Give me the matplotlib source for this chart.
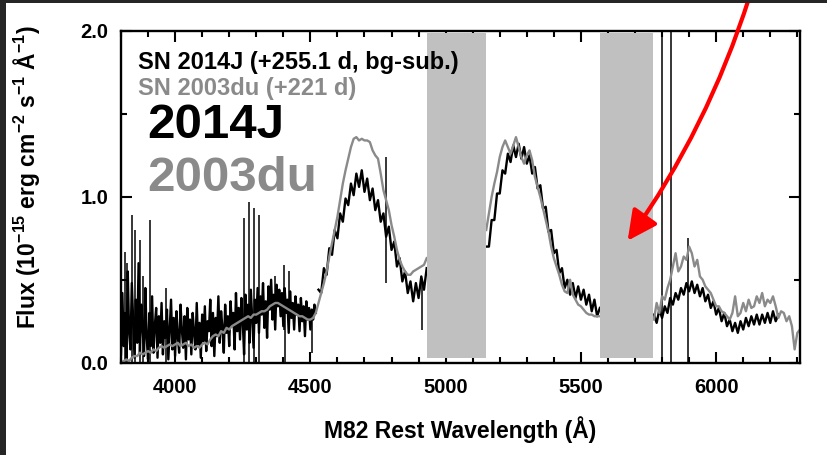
import matplotlib
matplotlib.use("Agg")
import matplotlib.pyplot as plt
import numpy as np
from matplotlib.patches import Rectangle, FancyArrowPatch

plt.rcParams['font.family'] = ['Liberation Sans', 'DejaVu Sans']
plt.rcParams['font.weight'] = 'bold'
plt.rcParams['axes.labelweight'] = 'bold'
plt.rcParams['mathtext.fontset'] = 'custom'
plt.rcParams['mathtext.bf'] = 'Liberation Sans:bold'
plt.rcParams['mathtext.rm'] = 'Liberation Sans:bold'
plt.rcParams['mathtext.default'] = 'bf'

# SN 2014J, background subtracted
# noisy blue end, 5 A steps from 3800 A
flux_14j_blue = [0.05, 0.42, 0.10, 0.30, 0.02, 0.55, 0.18, 0.08, 0.48, 0.25,
                 0.03, 0.38, 0.12, 0.60, 0.06, 0.35, 0.22, 0.04, 0.45, 0.15,
                 0.02, 0.30, 0.10, 0.40, 0.06, 0.22, 0.33, 0.03, 0.28, 0.12,
                 0.36, 0.05, 0.25, 0.15, 0.32, 0.02, 0.20, 0.38, 0.08, 0.27,
                 0.04, 0.31, 0.16, 0.06, 0.35, 0.20, 0.09, 0.28, 0.02, 0.33,
                 0.14, 0.26, 0.05, 0.30, 0.18, 0.08, 0.36, 0.11, 0.24, 0.03,
                 0.29, 0.13, 0.34, 0.07, 0.25, 0.19, 0.38, 0.10, 0.30, 0.04,
                 0.27, 0.16, 0.40, 0.12, 0.31, 0.21, 0.06, 0.35, 0.18, 0.28,
                 0.10, 0.37, 0.22, 0.30, 0.08, 0.42, 0.19, 0.33, 0.14, 0.39,
                 0.25, 0.05, 0.41, 0.20, 0.35, 0.12, 0.44, 0.26, 0.09, 0.38,
                 0.24, 0.45, 0.18, 0.40, 0.29, 0.48, 0.21, 0.37, 0.15, 0.46,
                 0.32, 0.50, 0.26, 0.41, 0.20, 0.47, 0.34, 0.44, 0.28, 0.42,
                 0.22, 0.45, 0.30, 0.38, 0.18, 0.43, 0.27, 0.36, 0.20, 0.40,
                 0.29, 0.35, 0.19, 0.39, 0.25, 0.34, 0.16, 0.37, 0.26, 0.33,
                 0.20, 0.32, 0.26, 0.35, 0.30]
# 10 A steps from 4530 A, 5150 A and 5770 A
flux_14j_a = [0.44, 0.42, 0.57, 0.53, 0.69, 0.65, 0.80, 0.75, 0.90, 0.85,
              0.99, 0.95, 1.08, 1.01, 1.14, 1.06, 1.16, 1.03, 1.11, 0.98,
              1.05, 0.92, 0.98, 0.85, 0.90, 0.76, 0.82, 0.68, 0.73, 0.58,
              0.63, 0.49, 0.55, 0.42, 0.49, 0.37, 0.48, 0.39, 0.52, 0.44,
              0.57]
flux_14j_b = [0.70, 0.70, 0.86, 0.86, 1.02, 1.02, 1.16, 1.14, 1.26, 1.21,
              1.31, 1.24, 1.32, 1.23, 1.30, 1.20, 1.25, 1.14, 1.18, 1.05,
              1.07, 0.93, 0.94, 0.79, 0.80, 0.66, 0.68, 0.54, 0.57, 0.45,
              0.50, 0.41, 0.48, 0.39, 0.46, 0.38, 0.44, 0.35, 0.41, 0.31,
              0.38, 0.28, 0.33]
flux_14j_c = [0.29, 0.24, 0.32, 0.27, 0.34, 0.30, 0.39, 0.35, 0.42, 0.38,
              0.45, 0.41, 0.48, 0.43, 0.49, 0.42, 0.47, 0.40, 0.45, 0.37,
              0.41, 0.33, 0.37, 0.29, 0.33, 0.25, 0.30, 0.22, 0.26, 0.19,
              0.24, 0.18, 0.25, 0.20, 0.27, 0.22, 0.28, 0.23, 0.29, 0.23,
              0.29, 0.24, 0.30, 0.24, 0.31, 0.25, 0.29]
seg_14j_start = [3800, 4530, 5150, 5770]
seg_14j_step = [5, 10, 10, 10]

# SN 2003du (+221 d), 10 A steps from 3800 A, 5150 A and 5770 A
flux_03du_a = [0.00, 0.01, 0.02, 0.01, 0.03, 0.04, 0.04, 0.06, 0.05, 0.06,
               0.07, 0.06, 0.08, 0.07, 0.09, 0.10, 0.09, 0.10, 0.11, 0.10,
               0.11, 0.12, 0.10, 0.11, 0.12, 0.10, 0.11, 0.09, 0.10, 0.09,
               0.11, 0.12, 0.11, 0.14, 0.16, 0.17, 0.16, 0.19, 0.18, 0.21,
               0.20, 0.22, 0.23, 0.24, 0.25, 0.26, 0.27, 0.28, 0.27, 0.29,
               0.29, 0.30, 0.31, 0.31, 0.32, 0.34, 0.35, 0.36, 0.36, 0.35,
               0.34, 0.33, 0.32, 0.31, 0.30, 0.29, 0.28, 0.28, 0.27, 0.26,
               0.26, 0.27, 0.30, 0.36, 0.42, 0.48, 0.55, 0.64, 0.72, 0.80,
               0.88, 0.98, 1.08, 1.16, 1.23, 1.30, 1.35, 1.36, 1.34, 1.35,
               1.34, 1.34, 1.33, 1.28, 1.25, 1.23, 1.14, 1.04, 0.98, 0.92,
               0.83, 0.76, 0.68, 0.62, 0.58, 0.55, 0.53, 0.53, 0.55, 0.56,
               0.57, 0.58, 0.59, 0.63]
flux_03du_b = [0.80, 0.90, 1.00, 1.08, 1.15, 1.24, 1.30, 1.34, 1.30, 1.26,
               1.31, 1.36, 1.30, 1.24, 1.20, 1.25, 1.28, 1.22, 1.12, 1.06,
               1.00, 0.93, 0.86, 0.79, 0.70, 0.63, 0.58, 0.53, 0.47, 0.43,
               0.42, 0.50, 0.41, 0.38, 0.35, 0.34, 0.32, 0.30, 0.29, 0.29,
               0.28, 0.28, 0.28]
flux_03du_c = [0.26, 0.36, 0.30, 0.40, 0.38, 0.45, 0.50, 0.58, 0.66, 0.55,
               0.58, 0.64, 0.62, 0.70, 0.66, 0.58, 0.62, 0.52, 0.50, 0.46,
               0.44, 0.42, 0.38, 0.34, 0.34, 0.31, 0.30, 0.28, 0.26, 0.30,
               0.40, 0.28, 0.30, 0.36, 0.31, 0.38, 0.33, 0.34, 0.40, 0.36,
               0.42, 0.34, 0.38, 0.36, 0.40, 0.34, 0.27, 0.31, 0.30, 0.25,
               0.28, 0.22, 0.08, 0.18, 0.20]
seg_03du_start = [3800, 5150, 5770]

# narrow spikes in the 2014J spectrum (wavelength, low, high)
spike_wave = [3815, 3822, 3841, 3853, 3870, 3881, 3906, 3967, 4253, 4272,
              4290, 4309, 4370, 4402, 4407, 4422, 4505, 4778, 4914, 5800,
              5832, 5897]
spike_lo = [0.0, 0.0, 0.0, 0.0, 0.0, 0.0, 0.0, 0.0, 0.0, 0.0,
            0.0, 0.0, 0.2, 0.2, 0.0, 0.2, 0.06, 0.48, 0.20, 0.0,
            0.0, 0.0]
spike_hi = [0.67, 0.60, 0.89, 0.80, 0.74, 0.52, 0.86, 0.45, 0.87, 0.97,
            0.93, 0.89, 0.52, 0.59, 0.40, 0.55, 0.30, 1.24, 0.48, 2.1,
            2.1, 0.75]

# masked regions
band_lo = [4930, 5570]
band_hi = [5150, 5767]

black = '#000000'
grey = '#8a8a8a'

fig = plt.figure(figsize=(8.27, 4.55), dpi=100)
ax = fig.add_axes([0.1463, 0.2029, 0.8211, 0.7290])

for start, step, f in zip(seg_14j_start, seg_14j_step,
                          [flux_14j_blue, flux_14j_a, flux_14j_b, flux_14j_c]):
    ax.plot(start + step * np.arange(len(f)), f, color=black, lw=1.7, zorder=2)
for start, f in zip(seg_03du_start, [flux_03du_a, flux_03du_b, flux_03du_c]):
    ax.plot(start + 10 * np.arange(len(f)), f, color=grey, lw=1.7, zorder=2.5)

ax.vlines(spike_wave, spike_lo, spike_hi, color=black, lw=1.1, zorder=2)

for lo, hi in zip(band_lo, band_hi):
    ax.axvspan(lo, hi, ymin=0.014, ymax=0.994, color='#c0c0c0', lw=0, zorder=3)

ax.set_xlim(3800, 6310)
ax.set_ylim(0, 2.0)
ax.set_xticks([4000, 4500, 5000, 5500, 6000])
ax.set_xticks(np.arange(3800, 6310, 100), minor=True)
ax.set_yticks([0.0, 1.0, 2.0])
ax.set_yticks([0.5, 1.5], minor=True)
ax.set_yticklabels(['0.0', '1.0', '2.0'])
ax.tick_params(which='both', direction='in', top=True, right=True,
               width=1.5, labelsize=14.5)
ax.tick_params(which='major', length=8, pad=9)
ax.tick_params(which='minor', length=4.5)
ax.tick_params(axis='x', which='major', pad=11)
for s in ax.spines.values():
    s.set_linewidth(1.7)
    s.set_zorder(4)

ax.set_xlabel('M82 Rest Wavelength (Å)', fontsize=16.5)
ax.xaxis.set_label_coords(0.5, -0.16)
ax.set_ylabel(r'Flux (10$^{-15}$ erg cm$^{-2}$ s$^{-1}$ Å$^{-1}$)', fontsize=16.5)
ax.yaxis.set_label_coords(-0.117, 0.56)

ax.text(0.025, 0.885, 'SN 2014J (+255.1 d, bg-sub.)', transform=ax.transAxes,
        fontsize=17, color=black, va='baseline', zorder=5)
ax.text(0.025, 0.807, 'SN 2003du (+221 d)', transform=ax.transAxes,
        fontsize=17, color=grey, va='baseline', zorder=5)
ax.text(0.038, 0.678, '2014J', transform=ax.transAxes,
        fontsize=35.5, color=black, va='baseline', zorder=5)
ax.text(0.038, 0.519, '2003du', transform=ax.transAxes,
        fontsize=35.5, color=grey, va='baseline', zorder=5)

# red pointer drawn over the figure
W, H = 827.0, 455.0
arrow = FancyArrowPatch((750 / W, 1 + 5 / H), (626 / W, 1 - 243 / H),
                        transform=fig.transFigure, connectionstyle='arc3,rad=-0.08',
                        arrowstyle='-|>,head_length=0.9,head_width=0.45',
                        mutation_scale=20, color='#ff0000', lw=3, clip_on=False)
fig.patches.append(arrow)

# dark screen border on the left and top
fig.patches.append(Rectangle((0, 0), 6 / W, 1, transform=fig.transFigure,
                             color='#262626', lw=0))
fig.patches.append(Rectangle((0, 1 - 3 / H), 1, 3 / H, transform=fig.transFigure,
                             color='#262626', lw=0))

fig.savefig('out.png', dpi=100)
